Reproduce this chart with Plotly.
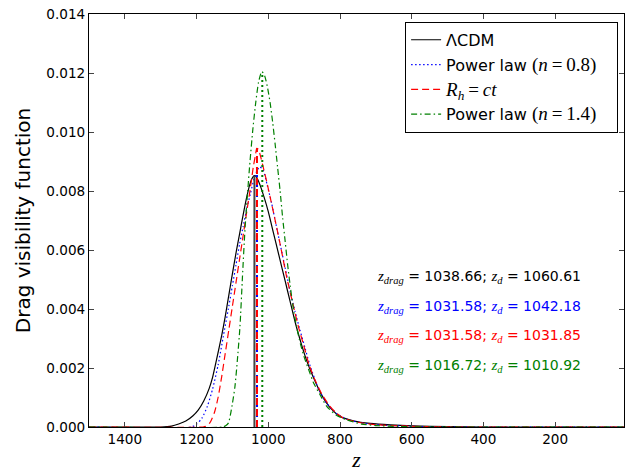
import numpy as np
import plotly.graph_objects as go

# ---- data ----
z_lcdm = [1500, 1300, 1270, 1250, 1230, 1210, 1195, 1180, 1165, 1155, 1144, 1130, 1120, 1111,
          1100, 1090, 1080, 1070, 1060, 1052, 1045, 1039, 1033, 1023, 1012, 1000, 986, 970,
          953, 940, 925, 910, 893, 875, 851, 825, 800, 760, 716, 660, 600, 500, 400, 8]
v_lcdm = [0, 0, 0.00003, 0.0001, 0.0002, 0.00038, 0.00058, 0.00088, 0.0013, 0.0017, 0.0023,
          0.0031, 0.00375, 0.0044, 0.0052, 0.0059, 0.00655, 0.0072, 0.0078, 0.0082, 0.00843,
          0.00852, 0.00848, 0.0082, 0.0078, 0.0073, 0.0066, 0.0058, 0.00495, 0.0043, 0.00355,
          0.0029, 0.00225, 0.0017, 0.00108, 0.00062, 0.00036, 0.0002, 0.00012, 0.00007,
          0.00004, 0.00001, 0, 0]

z_pl08 = [1500, 1215, 1200, 1185, 1170, 1155, 1140, 1125, 1110, 1100, 1090, 1080, 1070, 1060,
          1050, 1040, 1031, 1024, 1014, 1003, 991, 979, 967, 953, 939, 925, 912, 898, 884,
          860, 837, 810, 780, 740, 700, 640, 560, 480, 8]
v_pl08 = [0, 0, 0.0001, 0.0003, 0.0007, 0.0013, 0.0021, 0.0031, 0.0041, 0.0048, 0.0055,
          0.0062, 0.0068, 0.0074, 0.0079, 0.0084, 0.0087, 0.00882, 0.0087, 0.0082, 0.0076,
          0.0069, 0.0062, 0.0054, 0.0046, 0.0039, 0.0033, 0.0027, 0.0021, 0.0013, 0.0008,
          0.00046, 0.00026, 0.00014, 0.00008, 0.00004, 0.00001, 0, 0]

z_rh = [1500, 1182, 1175, 1163, 1150, 1140, 1130, 1120, 1110, 1100, 1090, 1080, 1070, 1060,
        1050, 1042, 1036, 1032, 1027, 1020, 1012, 1004, 995, 986, 967, 949, 930, 916, 902, 886,
        870, 850, 828, 810, 790, 750, 700, 640, 560, 480, 8]
v_rh = [0, 0, 0.00002, 0.00014, 0.0005, 0.001, 0.0017, 0.0025, 0.0033, 0.0041, 0.0049,
        0.0057, 0.0065, 0.0073, 0.0081, 0.0088, 0.0092, 0.00945, 0.0094, 0.0091, 0.0087,
        0.0083, 0.0078, 0.0073, 0.0062, 0.0051, 0.0041, 0.0034, 0.0028, 0.0021, 0.0016,
        0.0011, 0.0007, 0.00047, 0.0003, 0.00016, 0.00008, 0.00004, 0.00001, 0, 0]

z_pl14 = [1500, 1127, 1118, 1111, 1100, 1093, 1086, 1079, 1072, 1065, 1058, 1051, 1043, 1035,
          1027, 1018, 1010, 1002, 995, 988, 981, 974, 967, 960, 953, 946, 939, 930, 921, 910,
          898, 886, 874, 856, 837, 810, 781, 740, 700, 640, 560, 8]
v_pl14 = [0, 0, 0.00005, 0.00014, 0.0008, 0.00137, 0.0023, 0.0034, 0.0051, 0.0067, 0.0079,
          0.0090, 0.0101, 0.0110, 0.0117, 0.01205, 0.0119, 0.0115, 0.0110, 0.01035, 0.0096,
          0.0088, 0.0080, 0.0071, 0.0063, 0.0055, 0.0048, 0.0040, 0.0034, 0.0028, 0.0023,
          0.0019, 0.0015, 0.0011, 0.0007, 0.0004, 0.00024, 0.0001, 0.00005, 0.00002, 0, 0]

z_drag = [1038.66, 1031.58, 1031.58, 1016.72]
z_d = [1060.61, 1042.18, 1031.85, 1010.92]

x_ticks = [1400, 1200, 1000, 800, 600, 400, 200]
y_ticks = [0.000, 0.002, 0.004, 0.006, 0.008, 0.010, 0.012, 0.014]

MATH = "Liberation Serif"
M = '<span style="font-family:%s;font-size:19px">' % MATH
PAD = "\u00a0\u00a0\u00a0"
names = ["\u039bCDM" + PAD,
         'Power law ' + M + '(<i>n</i>\u2009=\u20090.8)</span>' + PAD,
         M + '<i>R<sub>h</sub></i>\u2009=\u2009<i>ct</i></span>' + PAD,
         'Power law ' + M + '(<i>n</i>\u2009=\u20091.4)</span>' + PAD]
colors = ["black", "#0000ff", "#ff0000", "#008000"]
dashes = ["solid", "1.5px,2.5px", "7px,4px", "6px,3px,1.5px,3px"]
vdashes = ["solid", "2px,3px", "7px,4px", "2px,3px"]
vcolors = ["#444444", "#0000ff", "#ff0000", "#008000"]
series = [(z_lcdm, v_lcdm), (z_pl08, v_pl08), (z_rh, v_rh), (z_pl14, v_pl14)]

fig = go.Figure()
for k, ((zz, vv), nm, c, d) in enumerate(zip(series, names, colors, dashes)):
    fig.add_trace(go.Scatter(x=zz, y=vv, mode="lines", name=nm, legendgroup="g%d" % k,
                             line=dict(color=c, width=1.2, dash=d, shape="spline", smoothing=0.6)))

# vertical lines at z_drag, up to each curve
for i in range(4):
    zz, vv = series[i]
    h = float(np.interp(z_drag[i], zz[::-1], vv[::-1]))
    fig.add_trace(go.Scatter(x=[z_drag[i], z_drag[i]], y=[0, h], mode="lines", showlegend=False,
                             line=dict(color=vcolors[i], width=2, dash=vdashes[i])))

# annotations
ann_y = [0.00509, 0.00408, 0.00309, 0.00208]
for i in range(4):
    txt = ('<span style="font-family:%s;font-size:15px"><i>z<sub>drag</sub></i></span> = %.2f; '
           '<span style="font-family:%s;font-size:15px"><i>z<sub>d</sub></i></span> = %.2f') % (
        MATH, z_drag[i], MATH, z_d[i])
    fig.add_annotation(x=702, y=ann_y[i], xref="x", yref="y", text=txt, showarrow=False,
                       xanchor="left", yanchor="middle",
                       font=dict(family="DejaVu Sans", size=14, color=colors[i]))

fig.update_layout(
    width=629, height=473,
    margin=dict(l=89, r=5, t=14, b=46),
    paper_bgcolor="white", plot_bgcolor="white",
    font=dict(family="DejaVu Sans", size=13.6, color="black"),
    showlegend=True,
    legend=dict(x=0.989, y=0.981, xanchor="right", yanchor="top",
                bordercolor="black", borderwidth=1, bgcolor="white",
                font=dict(size=16), itemwidth=30, tracegroupgap=1),
    xaxis=dict(range=[1500, 8], tickvals=x_ticks, ticks="inside", ticklen=5,
               showline=True, linecolor="black", linewidth=1, mirror="ticks",
               showgrid=False, zeroline=False,
               title=dict(text="<i>z</i>", font=dict(family=MATH, size=22), standoff=1)),
    yaxis=dict(range=[0, 0.014], tickvals=y_ticks, tickformat=".3f", ticks="inside", ticklen=5,
               showline=True, linecolor="black", linewidth=1, mirror="ticks",
               showgrid=False, zeroline=False,
               title=dict(text="Drag visibility function", font=dict(size=20), standoff=10)),
)

fig.write_html("out.html", config={"displayModeBar": False},
               post_script="document.body.style.margin='0px';")
